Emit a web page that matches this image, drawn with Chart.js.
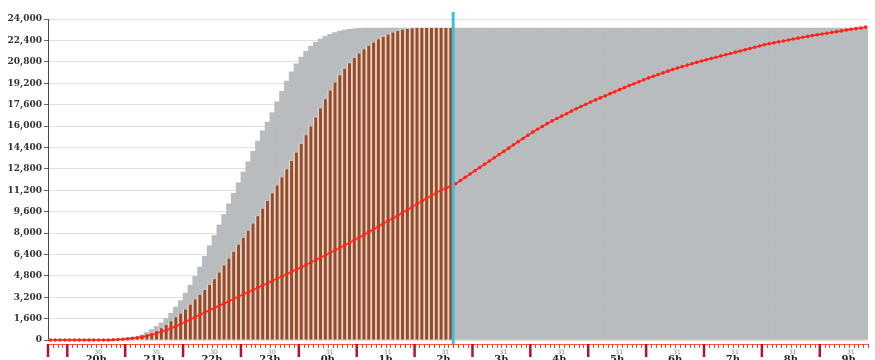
<!DOCTYPE html>
<html>
<head>
<meta charset="utf-8">
<script src="https://cdn.jsdelivr.net/npm/chart.js@4.4.1/dist/chart.umd.min.js"></script>
<style>
  html, body { margin: 0; padding: 0; background: #fff; overflow: hidden; }
  #wrap { width: 875px; height: 360px; }
</style>
</head>
<body>
<div id="wrap"><canvas id="graph" width="875" height="360"></canvas></div>
<script>
// Data, one value per 5 minute slot starting 19:40

const startMinute = 19 * 60 + 40;
const slotCount = 170;
const nowSlot = 84; // cyan marker sits before this slot (02:40)

const hourLabels = ['20h', '21h', '22h', '23h', '0h', '1h', '2h', '3h', '4h', '5h', '6h', '7h', '8h', '9h'];
const dayLabels = ['30', '30', '30', '30', '31', '31', '31', '31', '31', '31', '31', '31', '31', '31'];
const yTicks = [0, 1600, 3200, 4800, 6400, 8000, 9600, 11200, 12800, 14400, 16000, 17600, 19200, 20800, 22400, 24000];

const plannedValues = [
  0, 0, 0, 0, 0, 0, 0, 0, 0, 0, 0, 0, 0, 0, 0,
  20, 60, 130, 230, 380, 560, 780, 1020, 1280, 1600,
  2000, 2450, 2950, 3500, 4100, 4750, 5450, 6250, 7050, 7820,
  8600, 9390, 10180, 10970, 11760, 12550, 13330, 14110, 14880, 15640,
  16300, 17000, 17800, 18600, 19350, 20050, 20650, 21150, 21580, 21950,
  22250, 22500, 22700, 22860, 22990, 23090, 23170, 23230, 23270, 23300,
  23320, 23320, 23320, 23320, 23320, 23320, 23320, 23320, 23320, 23320,
  23320, 23320, 23320, 23320, 23320, 23320, 23320, 23320, 23320, 23320,
  23320, 23320, 23320, 23320, 23320, 23320, 23320, 23320, 23320, 23320,
  23320, 23320, 23320, 23320, 23320, 23320, 23320, 23320, 23320, 23320,
  23320, 23320, 23320, 23320, 23320, 23320, 23320, 23320, 23320, 23320,
  23320, 23320, 23320, 23320, 23320, 23320, 23320, 23320, 23320, 23320,
  23320, 23320, 23320, 23320, 23320, 23320, 23320, 23320, 23320, 23320,
  23320, 23320, 23320, 23320, 23320, 23320, 23320, 23320, 23320, 23320,
  23320, 23320, 23320, 23320, 23320, 23320, 23320, 23320, 23320, 23320,
  23320, 23320, 23320, 23320, 23320, 23320, 23320, 23320, 23320, 23320,
  23320, 23320, 23320, 23320, 23320
];

const actualValues = [
  0, 0, 0, 0, 0, 0, 0, 0, 0, 0, 0, 0, 0, 0, 0, 0,
  30, 80, 150, 240, 360, 500, 680, 880, 1120, 1400,
  1700, 1980, 2280, 2650, 3030, 3380, 3740, 4120, 4550, 5050,
  5580, 6090, 6600, 7120, 7640, 8170, 8710, 9260, 9820, 10390,
  10970, 11560, 12160, 12770, 13390, 14020, 14660, 15310, 15970, 16640,
  17320, 18000, 18650, 19250, 19800, 20280, 20700, 21080, 21420, 21730,
  22000, 22250, 22480, 22680, 22850, 22990, 23100, 23190, 23260, 23300,
  23320, 23320, 23320, 23320, 23320, 23320, 23320, 23320
];

const trendValues = [
  0, 0, 0, 0, 0, 0, 0, 0, 0, 0, 0, 0, 0,
  20, 40, 55, 90, 125, 165, 230,
  310, 395, 490, 610, 730, 870, 1030, 1190, 1355, 1535,
  1710, 1885, 2055, 2225, 2390, 2560, 2730, 2900, 3070, 3240,
  3410, 3575, 3745, 3915, 4085, 4250, 4420, 4590, 4760, 4930,
  5100, 5265, 5440, 5620, 5800, 5980, 6160, 6345, 6525, 6705,
  6890, 7080, 7275, 7470, 7660, 7870, 8075, 8280, 8485, 8700,
  8900, 9100, 9305, 9520, 9735, 9950, 10160, 10380, 10585, 10790,
  10995, 11200, 11370, 11500, 11680, 11920, 12160, 12410, 12650, 12900,
  13140, 13380, 13625, 13865, 14105, 14345, 14590, 14830, 15070, 15310,
  15540, 15760, 15970, 16180, 16380, 16560, 16740, 16920, 17110, 17290,
  17460, 17620, 17790, 17950, 18100, 18250, 18410, 18560, 18720, 18870,
  19020, 19160, 19300, 19450, 19595, 19720, 19850, 19970, 20100, 20225,
  20340, 20440, 20550, 20655, 20760, 20860, 20950, 21050, 21140, 21240,
  21330, 21425, 21520, 21610, 21705, 21800, 21890, 21985, 22080, 22150,
  22220, 22290, 22360, 22430, 22500, 22570, 22640, 22700, 22760, 22820,
  22880, 22940, 23000, 23055, 23110, 23170, 23225, 23280, 23330, 23390
];

// slot labels like "19:40"
const slots = [];
for (let i = 0; i < slotCount; i++) {
  const m = startMinute + i * 5;
  const hh = Math.floor(m / 60) % 24;
  const mm = m % 60;
  slots.push(hh + ':' + (mm < 10 ? '0' + mm : mm));
}

function slotEdge(scale, i) {
  // left edge of slot i (i may be slotCount for the right end)
  const w = scale.getPixelForValue(1) - scale.getPixelForValue(0);
  if (i >= slotCount) return scale.getPixelForValue(slotCount - 1) + w / 2;
  return scale.getPixelForValue(i) - w / 2;
}

// draws the red time axis under the plot
const timeAxis = {
  id: 'timeAxis',
  afterDraw(chart) {
    const ctx = chart.ctx;
    const xs = chart.scales.x;
    const area = chart.chartArea;
    const axisY = area.bottom + 4;
    ctx.save();

    ctx.strokeStyle = '#ff5a3a';
    ctx.lineWidth = 1;
    ctx.beginPath();
    ctx.moveTo(area.left, axisY + 0.5);
    ctx.lineTo(area.right, axisY + 0.5);
    ctx.stroke();

    for (let i = 0; i <= slotCount; i++) {
      const px = slotEdge(xs, i);
      const minute = (startMinute + i * 5) % 60;
      if (minute === 0 || i === 0) {
        ctx.strokeStyle = '#b3122a';
        ctx.lineWidth = 2.5;
        ctx.beginPath();
        ctx.moveTo(px, axisY);
        ctx.lineTo(px, axisY + 13);
        ctx.stroke();
      } else {
        ctx.strokeStyle = '#e0463c';
        ctx.lineWidth = 1;
        ctx.beginPath();
        ctx.moveTo(Math.round(px) + 0.5, axisY);
        ctx.lineTo(Math.round(px) + 0.5, axisY + 4);
        ctx.stroke();
      }
    }

    ctx.textAlign = 'center';
    ctx.textBaseline = 'top';
    hourLabels.forEach((label, k) => {
      const idx = slots.indexOf(label.replace('h', '') + ':30');
      if (idx < 0) return;
      const px = slotEdge(xs, idx);
      ctx.fillStyle = '#888';
      ctx.font = '6px "DejaVu Sans"';
      ctx.fillText(dayLabels[k], px + 2, axisY + 5);
      ctx.fillStyle = '#222';
      ctx.font = 'bold 10px "DejaVu Serif"';
      ctx.fillText(label, px, axisY + 10);
    });
    ctx.restore();
  },
  afterDatasetsDraw(chart) {
    const ctx = chart.ctx;
    const xs = chart.scales.x;
    const px = slotEdge(xs, nowSlot);
    ctx.save();
    ctx.strokeStyle = '#3cc0dc';
    ctx.lineWidth = 3;
    ctx.beginPath();
    ctx.moveTo(px, 12);
    ctx.lineTo(px, chart.chartArea.bottom + 5);
    ctx.stroke();
    ctx.restore();
  },
};

const ctx = document.getElementById('graph').getContext('2d');
const chart = new Chart(ctx, {
  type: 'bar',
  data: {
    labels: slots,
    datasets: [
      {
        type: 'line',
        label: 'trend',
        data: trendValues,
        borderColor: '#ff2418',
        backgroundColor: '#ff2418',
        borderWidth: 1.5,
        pointRadius: 1.8,
        pointBorderWidth: 0,
        tension: 0,
        clip: false,
        order: 0,
      },
      {
        label: 'actual',
        data: actualValues,
        backgroundColor: '#9b4a24',
        barPercentage: 0.62,
        categoryPercentage: 1,
        grouped: false,
        order: 1,
      },
      {
        label: 'actual gap',
        data: actualValues,
        backgroundColor: '#dcd6d4',
        barPercentage: 1,
        categoryPercentage: 1,
        grouped: false,
        order: 2,
      },
      {
        label: 'planned',
        data: plannedValues,
        backgroundColor: '#b9bcbf',
        barPercentage: 1,
        categoryPercentage: 1,
        grouped: false,
        order: 3,
      },
    ],
  },
  options: {
    responsive: false,
    animation: false,
    devicePixelRatio: 1,
    layout: { padding: { top: 19, right: 7, bottom: 20, left: 0 } },
    plugins: { legend: { display: false }, tooltip: { enabled: false } },
    scales: {
      x: { display: false, offset: true },
      y: {
        min: 0,
        max: 24000,
        afterFit: (s) => { s.width = 48; },
        afterBuildTicks: (s) => { s.ticks = yTicks.map((v) => ({ value: v })); },
        border: { color: '#4a4a4a', width: 1 },
        grid: { color: '#eadcd8', tickColor: '#666', tickLength: 4 },
        ticks: {
          color: '#333',
          padding: 2,
          font: { family: 'DejaVu Serif', size: 9, weight: 'bold' },
          callback: (v) => v.toLocaleString('en-US'),
        },
      },
    },
  },
  plugins: [timeAxis],
});
</script>
</body>
</html>
